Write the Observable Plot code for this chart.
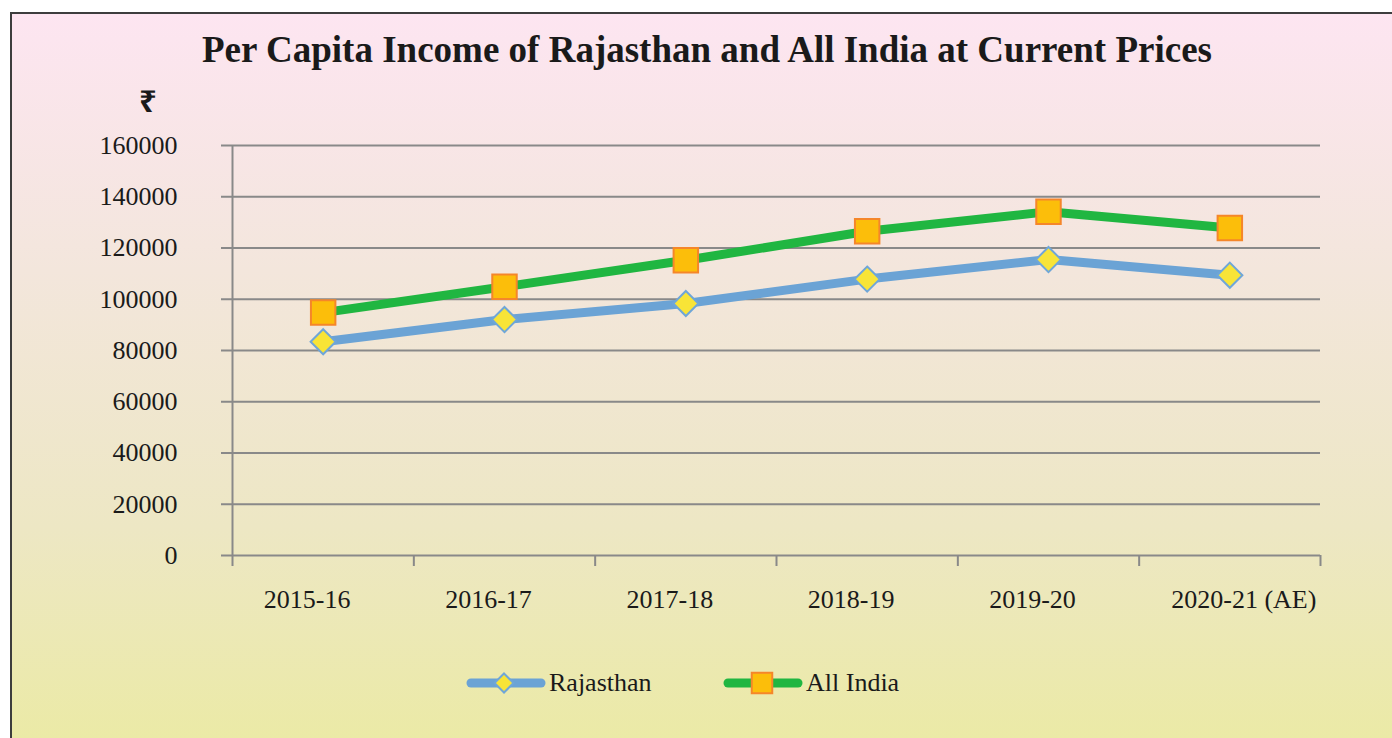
<!DOCTYPE html>
<html>
<head>
<meta charset="utf-8">
<script src="https://cdn.jsdelivr.net/npm/d3@7"></script>
<script src="https://cdn.jsdelivr.net/npm/@observablehq/plot@0.6"></script>
<style>
  html, body { margin: 0; padding: 0; background: #fff; }
  #wrap { position: relative; width: 1392px; height: 738px; overflow: hidden; background: #fff; font-family: "Liberation Serif", "Times New Roman", serif; }
  #panel { position: absolute; left: 10px; top: 12px; right: -10px; bottom: -10px; border: 2px solid #3d3d3d;
           background: linear-gradient(180deg, #fde5f1 0%, #f3e6dc 35%, #ede7c4 70%, #ebeaa5 100%); }
  #title { position: absolute; left: 0; width: 1414px; top: 31px; text-align: center; font-weight: bold; font-size: 37px; line-height: 1; color: #1a1a1a; white-space: nowrap; }
  #rupee { position: absolute; left: 139px; top: 85px; font-family: "Noto Sans", "DejaVu Sans", sans-serif; font-weight: bold; font-size: 31px; line-height: 1; color: #1a1a1a; }
  #chart { position: absolute; left: 0; top: 0; }
  .leg { position: absolute; top: 669px; display: flex; align-items: center; font-size: 26px; color: #1a1a1a; line-height: 1; }
  .leg svg { display: block; margin-right: 3px; }
</style>
</head>
<body>
<div id="wrap">
  <div id="panel"></div>
  <div id="title">Per Capita Income of Rajasthan and All India at Current Prices</div>
  <div id="rupee">₹</div>
  <div id="chart"></div>
  <div class="leg" id="leg0" style="left:466px"></div>
  <div class="leg" id="leg1" style="left:723px"></div>
</div>
<script>
// ---- data ----
const years = ["2015-16", "2016-17", "2017-18", "2018-19", "2019-20", "2020-21 (AE)"];
const rajasthan = [83427, 92076, 98336, 107865, 115492, 109386];
const allIndia = [94797, 104880, 115224, 126521, 134186, 127768];
const seriesNames = ["Rajasthan", "All India"];
const yTicks = [0, 20000, 40000, 60000, 80000, 100000, 120000, 140000, 160000];

// ---- styles ----
const gridColor = "#898989";
const lineColors = ["#6ba3d5", "#20b641"];
const markerFill = ["#f8e437", "#fcbe0a"];
const markerStroke = ["#6fa6d8", "#f5862a"];

const rowsR = years.map((y, i) => ({ xi: i + 0.5, value: rajasthan[i] }));
const rowsA = years.map((y, i) => ({ xi: i + 0.5, value: allIndia[i] }));
const bandEdges = d3.range(years.length + 1);
const labelPos = years.map((y, i) => i + 0.5);
const labelPosMain = labelPos.slice(0, -1);
const labelPosLast = labelPos.slice(-1);

const chart = Plot.plot({
  width: 1392,
  height: 640,
  marginTop: 145,
  marginBottom: 85,
  marginLeft: 232,
  marginRight: 72,
  style: { background: "transparent", fontFamily: "Liberation Serif, Times New Roman, serif", fontSize: "26px", color: "#1a1a1a", overflow: "visible" },
  x: { type: "linear", domain: [0, years.length] },
  y: { domain: [0, 160000] },
  marks: [
    Plot.ruleY(yTicks, { y: d => d, stroke: gridColor, strokeWidth: 2, strokeOpacity: 1 }),
    Plot.axisY({ ticks: yTicks, tickSize: 11, tickPadding: 44, stroke: gridColor, strokeWidth: 2, strokeOpacity: 1, fill: "#1a1a1a", fontSize: 26, label: null, tickFormat: d => String(d) }),
    Plot.ruleX([0], { y1: 0, y2: 160000, stroke: gridColor, strokeWidth: 2 }),
    Plot.axisX({ ticks: bandEdges, tickSize: 11, stroke: gridColor, strokeWidth: 2, strokeOpacity: 1, tickFormat: () => "", label: null }),
    Plot.axisX({ ticks: labelPosMain, tickSize: 0, tickPadding: 34, dx: -16, fill: "#1a1a1a", fontSize: 26, label: null, tickFormat: d => years[Math.floor(d)] }),
    Plot.axisX({ ticks: labelPosLast, tickSize: 0, tickPadding: 34, dx: 14, fill: "#1a1a1a", fontSize: 26, label: null, tickFormat: d => years[Math.floor(d)] }),
    Plot.line(rowsR, { x: "xi", y: "value", stroke: lineColors[0], strokeWidth: 9, strokeLinejoin: "round", strokeLinecap: "butt" }),
    Plot.line(rowsA, { x: "xi", y: "value", stroke: lineColors[1], strokeWidth: 9, strokeLinejoin: "round", strokeLinecap: "butt" }),
    Plot.dot(rowsR, { x: "xi", y: "value", symbol: "diamond2", r: 11.3, fill: markerFill[0], stroke: markerStroke[0], strokeWidth: 2 }),
    Plot.dot(rowsA, { x: "xi", y: "value", symbol: "square", r: 13.8, fill: markerFill[1], stroke: markerStroke[1], strokeWidth: 2 })
  ]
});
document.getElementById("chart").appendChild(chart);

// ---- legend ----
const ns = "http://www.w3.org/2000/svg";
function swatch(k) {
  const svg = document.createElementNS(ns, "svg");
  svg.setAttribute("width", 80); svg.setAttribute("height", 28);
  const ln = document.createElementNS(ns, "line");
  ln.setAttribute("x1", 5); ln.setAttribute("x2", 75); ln.setAttribute("y1", 14); ln.setAttribute("y2", 14);
  ln.setAttribute("stroke", lineColors[k]); ln.setAttribute("stroke-width", 9); ln.setAttribute("stroke-linecap", "round");
  svg.appendChild(ln);
  const sym = document.createElementNS(ns, "path");
  const path = k === 0 ? d3.symbol(d3.symbolDiamond2, 230)() : d3.symbol(d3.symbolSquare, 420)();
  sym.setAttribute("d", path);
  sym.setAttribute("transform", "translate(" + (k === 0 ? 38 : 39) + ",14)");
  sym.setAttribute("fill", markerFill[k]); sym.setAttribute("stroke", markerStroke[k]); sym.setAttribute("stroke-width", 2);
  svg.appendChild(sym);
  return svg;
}
seriesNames.forEach((name, k) => {
  const el = document.getElementById("leg" + k);
  el.appendChild(swatch(k));
  const t = document.createElement("span");
  t.textContent = name;
  el.appendChild(t);
});
</script>
</body>
</html>
